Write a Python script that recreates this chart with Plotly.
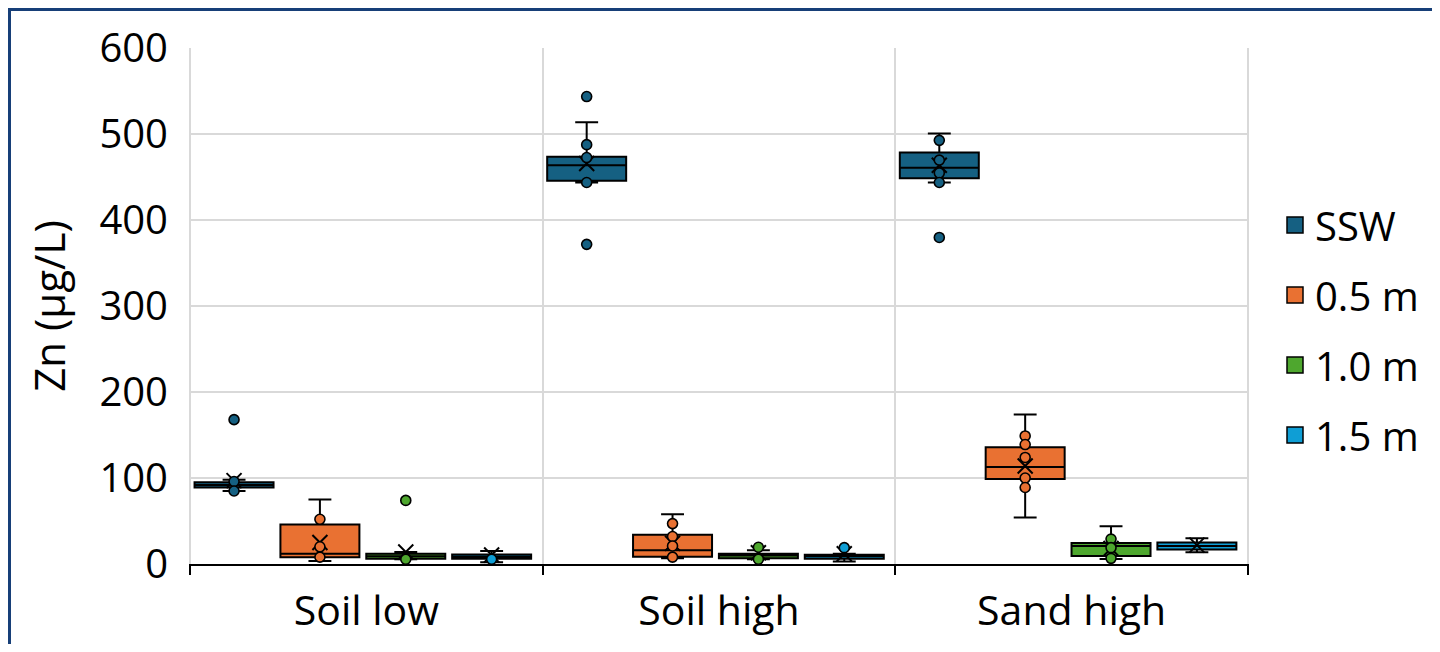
import plotly.graph_objects as go

groups = ["Soil low", "Soil high", "Sand high"]
series = ["SSW", "0.5 m", "1.0 m", "1.5 m"]
colors = ["#156082", "#E97132", "#4EA72E", "#0F9ED5"]

q1 = {
    "SSW": [89, 446, 449],
    "0.5 m": [8, 8.5, 99],
    "1.0 m": [6, 6.6, 9.3],
    "1.5 m": [6, 6.2, 17],
}
median = {
    "SSW": [92, 464, 461],
    "0.5 m": [12, 16, 113],
    "1.0 m": [9, 10, 21],
    "1.5 m": [8.5, 9, 21],
}
q3 = {
    "SSW": [95, 474, 479],
    "0.5 m": [46, 34, 136],
    "1.0 m": [12, 12, 24.4],
    "1.5 m": [11, 10.8, 25],
}
lower = {
    "SSW": [85, 444, 444],
    "0.5 m": [3.5, 6.6, 54],
    "1.0 m": [5.5, 5.5, 5.8],
    "1.5 m": [2, 3, 13.6],
}
upper = {
    "SSW": [98, 514, 501],
    "0.5 m": [75, 58, 174],
    "1.0 m": [14, 16, 44],
    "1.5 m": [15, 12, 30],
}
means = {
    "SSW": [97, 466, 464],
    "0.5 m": [25, 24, 114],
    "1.0 m": [14, 13, 18],
    "1.5 m": [10.5, 12, 22],
}
points = {
    "SSW": [[168, 96, 85], [544, 488, 473, 444, 372], [493, 470, 455, 444, 380]],
    "0.5 m": [[52, 20, 8], [47, 32, 21, 8], [149, 139, 124, 100, 89]],
    "1.0 m": [[74, 5.5], [19.5, 5.5], [29, 19, 6.6]],
    "1.5 m": [[5.5], [19], []],
}
y_ticks = [0, 100, 200, 300, 400, 500, 600]

FONT = "Open Sans"
step = 0.2435
bw = 0.224
shift = -0.01

fig = go.Figure()
gi = list(range(len(groups)))

for j, s in enumerate(series):
    xs = [g + (j - 1.5) * step + shift for g in gi]
    fig.add_trace(go.Box(
        x=xs, q1=q1[s], median=median[s], q3=q3[s],
        lowerfence=lower[s], upperfence=upper[s],
        width=bw, whiskerwidth=0.29, boxpoints=False,
        fillcolor=colors[j], line=dict(color="black", width=2),
        showlegend=False, name=s, hoverinfo="skip",
    ))

for j, s in enumerate(series):
    xs = [g + (j - 1.5) * step + shift for g in gi]
    fig.add_trace(go.Scatter(
        x=xs, y=means[s], mode="markers", showlegend=False,
        marker=dict(symbol="x-thin-open", size=15, color="black",
                    line=dict(color="black", width=2)),
        hoverinfo="skip",
    ))

for j, s in enumerate(series):
    px, py = [], []
    for g in gi:
        for v in points[s][g]:
            px.append(g + (j - 1.5) * step + shift)
            py.append(v)
    fig.add_trace(go.Scatter(
        x=px, y=py, mode="markers", showlegend=False,
        marker=dict(symbol="circle", size=10, color=colors[j],
                    line=dict(color="black", width=1.6)),
        hoverinfo="skip",
    ))

for j, s in enumerate(series):
    fig.add_trace(go.Scatter(
        x=[None], y=[None], mode="markers", name=s, legendgroup=s,
        marker=dict(symbol="square", size=18, color=colors[j],
                    line=dict(color="black", width=1.5)),
    ))

# page has an 8px body margin; figure sized to fit inside the window
OFF = 8
W, H = 1440 - 2 * OFF, 652 - 2 * OFF
L = 189 - OFF
T = 48 - OFF
R = W - (1249 - OFF)
B = H - (564 - OFF)
pw = W - L - R
ph = H - T - B

fig.update_layout(
    width=W, height=H,
    margin=dict(l=L, r=R, t=T, b=B, pad=0, autoexpand=False),
    paper_bgcolor="white", plot_bgcolor="white",
    font=dict(family=FONT, size=40, color="black"),
    showlegend=True,
    legend=dict(x=1 + (1275 - 1249) / pw, xanchor="left",
                y=1 - (330 - 48) / ph, yanchor="middle",
                font=dict(size=40), traceorder="grouped", tracegroupgap=15,
                itemsizing="trace", bgcolor="rgba(0,0,0,0)",
                borderwidth=0),
    xaxis=dict(
        range=[-0.503, 2.503], tickmode="array", tickvals=gi, ticktext=groups,
        showgrid=False, ticks="", zeroline=False, automargin=False,
        showline=True, linecolor="black", linewidth=2,
        tickfont=dict(size=41), ticklabelstandoff=10,
        minor=dict(tickmode="array", tickvals=[-0.5, 0.5, 1.5, 2.5],
                   showgrid=True, gridcolor="#D9D9D9", gridwidth=1.5,
                   ticks="outside", ticklen=9, tickwidth=2, tickcolor="black"),
    ),
    yaxis=dict(
        range=[0, 600.5], tickmode="array", tickvals=y_ticks,
        showgrid=True, gridcolor="#D9D9D9", gridwidth=1.5,
        zeroline=False, showline=False, ticks="", automargin=False,
        tickfont=dict(size=40), ticklabelstandoff=20,
        title=dict(text="Zn (µg/L)", font=dict(size=42), standoff=20),
    ),
    shapes=[
        dict(type="line", xref="paper", yref="paper",
             x0=(OFF + 1.5 - 189) / pw, x1=(OFF + 1.5 - 189) / pw,
             y0=-(652 - 564) / ph, y1=1 + (48 - OFF - 1.5) / ph,
             line=dict(color="#173F78", width=3), layer="above"),
        dict(type="line", xref="paper", yref="paper",
             x0=(OFF - 189) / pw, x1=(1440 - 189) / pw,
             y0=1 + (48 - OFF - 1.5) / ph, y1=1 + (48 - OFF - 1.5) / ph,
             line=dict(color="#173F78", width=3), layer="above"),
    ],
)

fig.write_html("out.html")
